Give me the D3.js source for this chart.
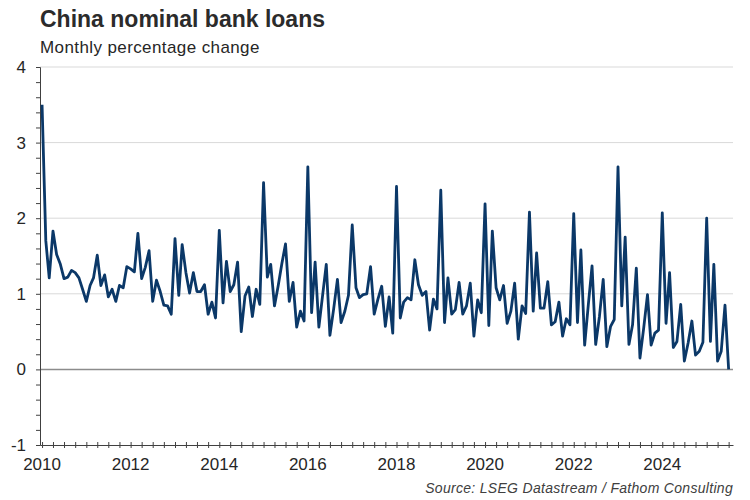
<!DOCTYPE html>
<html>
<head>
<meta charset="utf-8">
<script src="https://cdn.jsdelivr.net/npm/d3@7"></script>
<style>
  body { margin: 0; background: #fff; }
  svg { font-family: "Liberation Sans", Arial, sans-serif; }
</style>
</head>
<body>
<div id="chart"></div>
<script>
// monthly % change, Jan 2010 .. Jul 2025
const START_YEAR = 2010;
const loans = [
  3.5, 1.7, 1.21, 1.83, 1.52, 1.39, 1.2, 1.22, 1.31, 1.28, 1.21, 1.06,   // 2010
  0.9, 1.11, 1.21, 1.51, 1.11, 1.25, 0.96, 1.06, 0.9, 1.11, 1.08, 1.36,  // 2011
  1.33, 1.29, 1.8, 1.2, 1.35, 1.57, 0.9, 1.18, 1.03, 0.85, 0.84, 0.73,   // 2012
  1.73, 0.98, 1.65, 1.28, 1.01, 1.28, 1.03, 1.03, 1.12, 0.73, 0.89, 0.68, // 2013
  1.84, 0.88, 1.43, 1.03, 1.12, 1.42, 0.5, 0.97, 1.09, 0.7, 1.06, 0.86,  // 2014
  2.47, 1.22, 1.39, 0.84, 1.1, 1.4, 1.66, 0.9, 1.15, 0.56, 0.77, 0.64,   // 2015
  2.68, 0.75, 1.42, 0.56, 0.97, 1.39, 0.45, 0.8, 1.19, 0.62, 0.77, 0.98, // 2016
  1.91, 1.08, 0.95, 0.99, 1.0, 1.36, 0.73, 0.93, 1.1, 0.57, 0.96, 0.48,  // 2017
  2.42, 0.68, 0.89, 0.95, 0.92, 1.45, 1.12, 0.98, 1.03, 0.52, 0.93, 0.8, // 2018
  2.37, 0.62, 1.21, 0.73, 0.79, 1.15, 0.73, 0.84, 1.14, 0.44, 0.92, 0.75, // 2019
  2.19, 0.58, 1.83, 1.08, 0.92, 1.11, 0.61, 0.77, 1.14, 0.4, 0.84, 0.74, // 2020
  2.08, 0.77, 1.54, 0.81, 0.81, 1.16, 0.59, 0.63, 0.89, 0.44, 0.67, 0.59, // 2021
  2.06, 0.62, 1.58, 0.32, 0.85, 1.37, 0.33, 0.7, 1.19, 0.3, 0.57, 0.66,  // 2022
  2.68, 0.84, 1.75, 0.33, 0.59, 1.34, 0.15, 0.55, 0.99, 0.32, 0.48, 0.52, // 2023
  2.07, 0.61, 1.28, 0.29, 0.37, 0.86, 0.11, 0.35, 0.64, 0.19, 0.24, 0.36, // 2024
  2.0, 0.37, 1.39, 0.11, 0.24, 0.85, 0.0                                 // 2025
];
const yTicks = [-1, 0, 1, 2, 3, 4];
const xTickYears = [2010, 2012, 2014, 2016, 2018, 2020, 2022, 2024];

const WIDTH = 750, HEIGHT = 500;
const MARGINS = {left: 40, right: 17, top: 67, bottom: 55};

const data = loans.map((v, i) => ({date: new Date(START_YEAR, i, 1), value: v}));

const svg = d3.select("#chart").append("svg")
  .attr("width", WIDTH).attr("height", HEIGHT);

const X_SCALE = d3.scaleTime()
  .domain([new Date(2009, 11, 15), new Date(2025, 7, 6)])
  .range([MARGINS.left, WIDTH - MARGINS.right]);

const Y_SCALE = d3.scaleLinear()
  .domain([-1, 4])
  .range([HEIGHT - MARGINS.bottom, MARGINS.top]);

// grid lines
svg.append("g")
  .selectAll("line")
  .data(yTicks.filter(d => d > 0))
  .enter().append("line")
    .attr("x1", MARGINS.left).attr("x2", WIDTH - MARGINS.right)
    .attr("y1", d => Y_SCALE(d)).attr("y2", d => Y_SCALE(d))
    .attr("stroke", "#d9d9d9").attr("stroke-width", 1);

// zero line
svg.append("line")
  .attr("x1", MARGINS.left).attr("x2", WIDTH - MARGINS.right)
  .attr("y1", Y_SCALE(0)).attr("y2", Y_SCALE(0))
  .attr("stroke", "#8c8c8c").attr("stroke-width", 1.5);

// y axis with minor ticks every 0.2
const yAxis = svg.append("g")
  .attr("transform", "translate(" + MARGINS.left + ",0)")
  .call(d3.axisLeft(Y_SCALE).tickValues(d3.range(-1, 4.01, 0.2)).tickSize(4).tickFormat(""));
yAxis.select(".domain").attr("stroke", "#404040");
yAxis.selectAll(".tick line").attr("stroke", "#404040");

svg.append("g")
  .selectAll("text")
  .data(yTicks)
  .enter().append("text")
    .attr("x", 26)
    .attr("y", d => Y_SCALE(d) + 6)
    .attr("text-anchor", "end")
    .attr("font-size", "17px")
    .attr("fill", "#262626")
    .text(d => d);

// x axis along the bottom (-1)
const xAxis = svg.append("g")
  .attr("transform", "translate(0," + Y_SCALE(-1) + ")")
  .call(d3.axisBottom(X_SCALE).ticks(d3.timeMonth.every(3)).tickSize(3).tickSizeOuter(0).tickFormat(""));
xAxis.select(".domain").attr("stroke", "#404040");
xAxis.selectAll(".tick line").attr("stroke", "#404040").attr("y1", -3);

svg.append("g")
  .selectAll("text")
  .data(xTickYears)
  .enter().append("text")
    .attr("x", d => X_SCALE(new Date(d, 0, 1)))
    .attr("y", Y_SCALE(-1) + 25)
    .attr("text-anchor", "middle")
    .attr("font-size", "17px")
    .attr("fill", "#262626")
    .text(d => d);

// the series
const line = d3.line()
  .x(d => X_SCALE(d.date))
  .y(d => Y_SCALE(d.value));

svg.append("path")
  .datum(data)
  .attr("fill", "none")
  .attr("stroke", "#0b3868")
  .attr("stroke-width", 2.8)
  .attr("stroke-linejoin", "round")
  .attr("d", line);

// titles
svg.append("text")
  .attr("x", 40).attr("y", 27)
  .attr("font-size", "23px").attr("font-weight", "bold")
  .attr("fill", "#2b2b2b")
  .text("China nominal bank loans");

svg.append("text")
  .attr("x", 40).attr("y", 53)
  .attr("font-size", "17px")
  .attr("letter-spacing", "0.4px")
  .attr("fill", "#262626")
  .text("Monthly percentage change");

svg.append("text")
  .attr("x", WIDTH - MARGINS.right).attr("y", 493)
  .attr("text-anchor", "end")
  .attr("font-size", "14px").attr("font-style", "italic")
  .attr("letter-spacing", "0.3px")
  .attr("fill", "#404040")
  .text("Source: LSEG Datastream / Fathom Consulting");
</script>
</body>
</html>
